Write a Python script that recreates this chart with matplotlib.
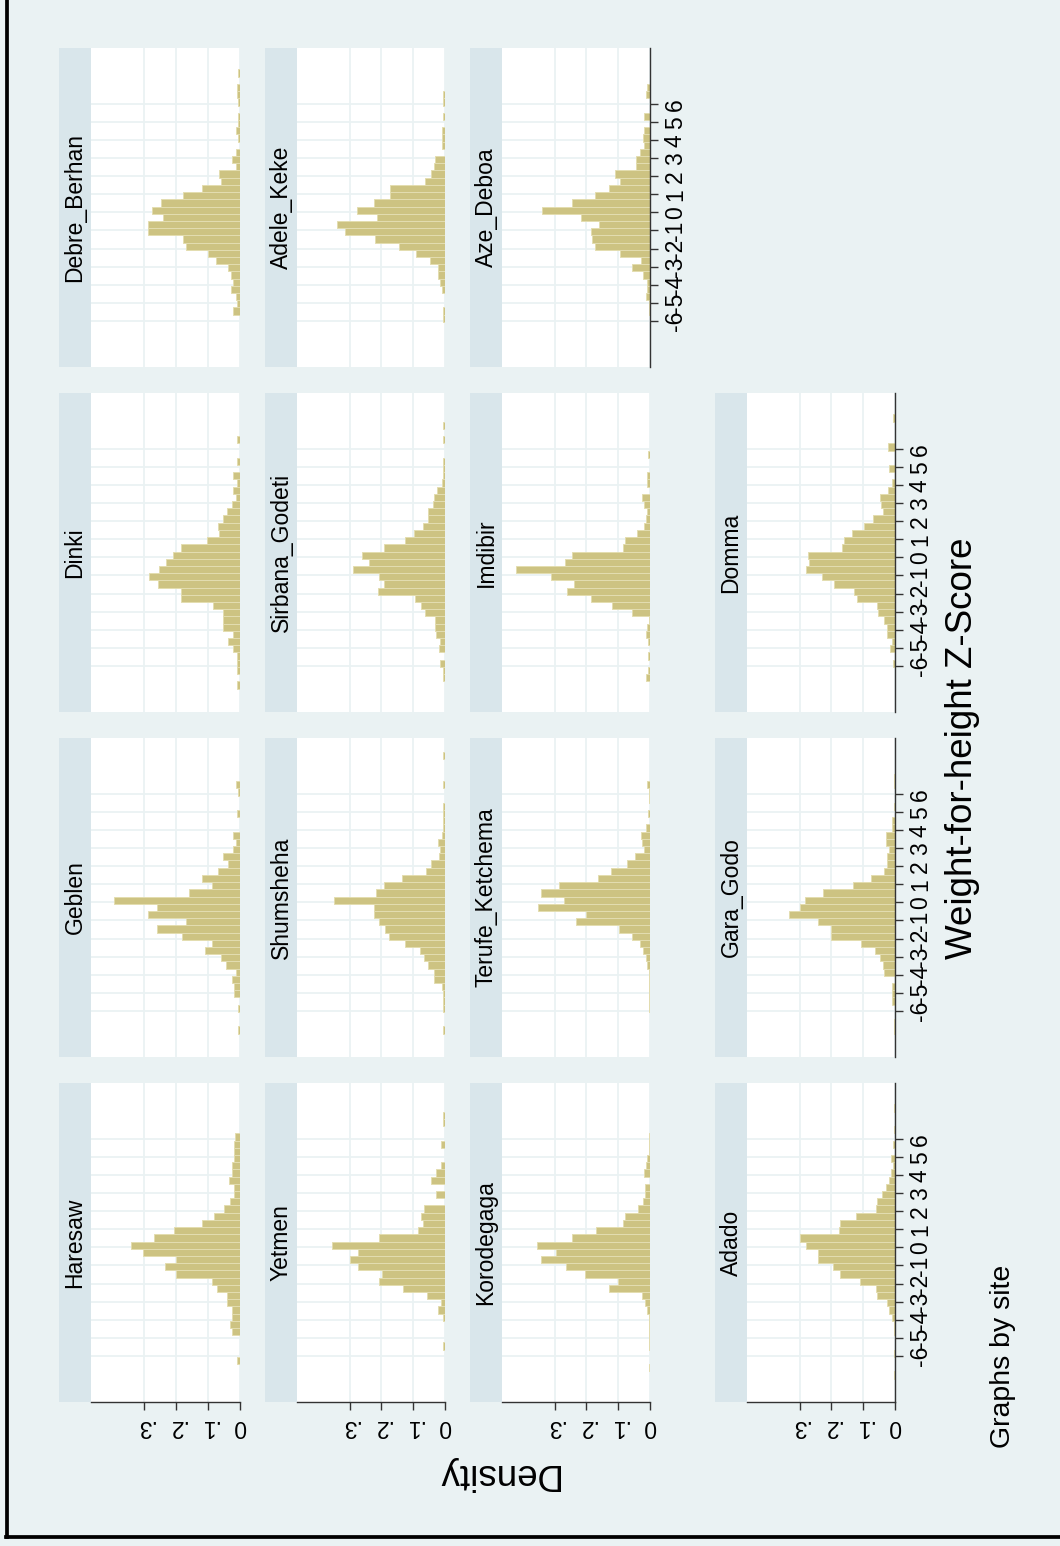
import matplotlib
matplotlib.use("Agg")
import matplotlib.pyplot as plt
from matplotlib.lines import Line2D

plt.rcParams['font.family'] = ['Liberation Sans', 'DejaVu Sans']

# ---------------- data ----------------
sites = ["Haresaw", "Geblen", "Dinki", "Debre_Berhan",
         "Yetmen", "Shumsheha", "Sirbana_Godeti", "Adele_Keke",
         "Korodegaga", "Terufe_Ketchema", "Imdibir", "Aze_Deboa",
         "Adado", "Gara_Godo", "Domma"]

# histogram bin centres (weight-for-height z-score), bin width 0.4
whz_bins = [-7.07, -6.67, -6.27, -5.87, -5.47, -5.07, -4.67, -4.27, -3.87, -3.47,
            -3.07, -2.67, -2.27, -1.87, -1.47, -1.07, -0.67, -0.27, 0.13, 0.53,
            0.93, 1.33, 1.73, 2.13, 2.53, 2.93, 3.33, 3.73, 4.13, 4.53,
            4.93, 5.33, 5.73, 6.13, 6.53, 6.93, 7.33, 7.73, 8.13]
bin_width = 0.4

haresaw = [0, 0, 0.008, 0, 0, 0, 0.024, 0.031, 0.024, 0.024, 0.040, 0.040, 0.073, 0.088, 0.200, 0.234, 0.200, 0.304,
           0.342, 0.269, 0.206, 0.120, 0.082, 0.050, 0.031, 0.018, 0.018, 0.035, 0.024, 0.024, 0.018, 0.018, 0.018, 0.015, 0, 0, 0, 0, 0]
geblen = [0.007, 0, 0, 0.007, 0, 0.019, 0.019, 0.024, 0.014, 0.044, 0.060, 0.109, 0.089, 0.180, 0.260, 0.169, 0.286, 0.260,
          0.394, 0.158, 0.089, 0.120, 0.070, 0.039, 0.054, 0.023, 0.014, 0.023, 0, 0, 0.008, 0, 0, 0.007, 0.014, 0, 0, 0, 0]
dinki = [0.008, 0, 0.008, 0.008, 0.008, 0.023, 0.036, 0.021, 0.054, 0.054, 0.054, 0.083, 0.184, 0.184, 0.255, 0.283, 0.252, 0.231,
         0.208, 0.184, 0.102, 0.067, 0.069, 0.054, 0.042, 0.026, 0.014, 0.021, 0.010, 0.021, 0, 0.008, 0, 0, 0.008, 0, 0, 0, 0]
debre_berhan = [0, 0, 0, 0, 0.021, 0.010, 0.014, 0.029, 0.023, 0.029, 0.036, 0.076, 0.101, 0.169, 0.179, 0.289, 0.289, 0.240,
                0.276, 0.247, 0.179, 0.120, 0.059, 0.066, 0.014, 0.026, 0.014, 0, 0.005, 0.014, 0.005, 0.005, 0, 0.005, 0.010, 0.010, 0, 0.005, 0]
yetmen = [0, 0, 0, 0, 0.005, 0, 0, 0, 0.005, 0.023, 0.014, 0.057, 0.133, 0.208, 0.199, 0.274, 0.299, 0.274,
          0.357, 0.208, 0.086, 0.068, 0.074, 0.066, 0, 0.027, 0, 0.044, 0.027, 0.014, 0, 0, 0.014, 0, 0, 0.005, 0.005, 0, 0]
shumsheha = [0.005, 0, 0, 0.005, 0.005, 0.005, 0.010, 0.034, 0.036, 0.052, 0.065, 0.078, 0.125, 0.177, 0.190, 0.208, 0.224, 0.222,
             0.349, 0.216, 0.193, 0.135, 0.059, 0.045, 0.018, 0.016, 0.021, 0.010, 0.007, 0.007, 0.005, 0.005, 0, 0, 0.005, 0, 0, 0, 0.005]
sirbana_godeti = [0, 0.005, 0.005, 0.016, 0, 0.018, 0.016, 0.028, 0.033, 0.031, 0.063, 0.076, 0.094, 0.210, 0.193, 0.208, 0.290, 0.238,
                  0.260, 0.193, 0.127, 0.099, 0.070, 0.055, 0.055, 0.038, 0.036, 0.024, 0.010, 0.007, 0.007, 0.007, 0, 0, 0.005, 0, 0.005, 0, 0]
adele_keke = [0, 0, 0, 0.007, 0.007, 0, 0, 0.010, 0.016, 0.021, 0.021, 0.047, 0.090, 0.146, 0.219, 0.316, 0.340, 0.214,
              0.276, 0.222, 0.172, 0.172, 0.063, 0.045, 0.035, 0.033, 0, 0.010, 0.010, 0.010, 0, 0.005, 0, 0.007, 0.007, 0, 0, 0, 0]
korodegaga = [0, 0.003, 0, 0, 0.002, 0.002, 0.003, 0.003, 0.003, 0.010, 0.017, 0.024, 0.130, 0.100, 0.204, 0.263, 0.342, 0.296,
              0.357, 0.245, 0.169, 0.086, 0.080, 0.038, 0.021, 0.015, 0.017, 0, 0.019, 0.012, 0.010, 0.003, 0.003, 0.003, 0, 0, 0, 0, 0]
terufe_ketchema = [0, 0, 0, 0.003, 0.003, 0.003, 0.003, 0.003, 0.003, 0.008, 0.014, 0.023, 0.031, 0.057, 0.096, 0.232, 0.200, 0.352,
                   0.271, 0.344, 0.286, 0.164, 0.123, 0.073, 0.047, 0.019, 0.026, 0.029, 0.014, 0, 0.007, 0, 0.003, 0.003, 0.010, 0, 0, 0, 0]
imdibir = [0, 0.014, 0.005, 0, 0.005, 0, 0.005, 0.014, 0.010, 0.004, 0.057, 0.120, 0.185, 0.260, 0.238, 0.310, 0.420, 0.266,
           0.245, 0.085, 0.080, 0.042, 0.019, 0.014, 0.010, 0.019, 0.026, 0, 0.010, 0.010, 0, 0, 0.005, 0, 0, 0, 0, 0, 0]
aze_deboa = [0, 0, 0, 0, 0.003, 0.003, 0.014, 0.008, 0.008, 0.023, 0.057, 0.029, 0.094, 0.174, 0.182, 0.185, 0.161, 0.216,
             0.341, 0.245, 0.172, 0.130, 0.094, 0.109, 0.044, 0.044, 0.031, 0.018, 0.023, 0.018, 0, 0.019, 0, 0, 0.014, 0.008, 0, 0, 0]
adado = [0.003, 0, 0, 0.003, 0, 0, 0.003, 0.003, 0.010, 0.018, 0.026, 0.057, 0.060, 0.109, 0.172, 0.195, 0.243, 0.243,
         0.281, 0.300, 0.175, 0.173, 0.123, 0.059, 0.057, 0.040, 0.028, 0.019, 0.014, 0.007, 0.014, 0, 0.007, 0, 0.003, 0, 0, 0.003, 0]
gara_godo = [0.003, 0.003, 0, 0, 0.010, 0.010, 0.010, 0, 0.036, 0.039, 0.047, 0.063, 0.106, 0.201, 0.201, 0.242, 0.333, 0.299,
             0.283, 0.227, 0.133, 0.076, 0.036, 0.026, 0.026, 0.018, 0.028, 0.028, 0.008, 0.008, 0, 0.003, 0, 0, 0.003, 0.003, 0, 0, 0]
domma = [0, 0, 0, 0.005, 0, 0.016, 0.010, 0.026, 0.026, 0.036, 0.052, 0.057, 0.120, 0.130, 0.193, 0.229, 0.279, 0.269,
         0.274, 0.167, 0.161, 0.135, 0.096, 0.070, 0.039, 0.044, 0.047, 0.023, 0.010, 0, 0.018, 0, 0, 0.023, 0, 0, 0, 0.005, 0]

densities = [haresaw, geblen, dinki, debre_berhan,
             yetmen, shumsheha, sirbana_godeti, adele_keke,
             korodegaga, terufe_ketchema, imdibir, aze_deboa,
             adado, gara_godo, domma]

whz_ticks = [-6, -5, -4, -3, -2, -1, 0, 1, 2, 3, 4, 5, 6]
whz_ticklabels = ["-6", "-5", "-4", "-3", "-2", "-1", "0", "1", "2", "3", "4", "5", "6"]
dens_ticks = [0, 0.1, 0.2, 0.3]
dens_ticklabels = ["0", ".1", ".2", ".3"]

# ---------------- styling / layout ----------------
W, H = 1060, 1546
BG = '#EAF2F3'
STRIP = '#D9E6EB'
GRID = '#EAF2F3'
BAR = '#CDC382'
BAR_EDGE = '#E3DDB0'
AXC = '#333333'

fig = plt.figure(figsize=(W / 100, H / 100), dpi=100)
fig.patch.set_facecolor(BG)


def rect(x0, y0, x1, y1):
    return [x0 / W, 1 - y1 / H, (x1 - x0) / W, (y1 - y0) / H]


col_x = [(91, 240), (297, 445), (502, 650), (747, 895)]       # image columns
row_y = [(1083, 1402), (738, 1057), (393, 712), (48, 367)]     # image rows (bottom -> top)
STRIP_W = 32

for i, (name, dens) in enumerate(zip(sites, densities)):
    c = i // 4
    r = i % 4
    x0, x1 = col_x[c]
    y0, y1 = row_y[r]

    ax = fig.add_axes(rect(x0, y0, x1, y1))
    ax.set_facecolor('white')
    ax.barh(whz_bins, dens, height=bin_width, color=BAR, edgecolor=BAR_EDGE,
            linewidth=0.7, zorder=2)
    ax.set_xlim(0.4656, 0)
    ax.set_ylim(-8.57, 9.12)
    ax.set_yticks(whz_ticks)
    ax.set_xticks(dens_ticks)
    ax.grid(True, color=GRID, linewidth=1.3, zorder=0)
    ax.set_axisbelow(True)
    for s in ax.spines.values():
        s.set_visible(False)

    show_dens = (r == 0)
    show_whz = (c == 3) or (c == 2 and r == 3)

    if show_dens:
        ax.spines['bottom'].set_visible(True)
        ax.spines['bottom'].set_color(AXC)
        ax.spines['bottom'].set_linewidth(1.0)
        ax.set_xticklabels(dens_ticklabels, rotation=180, fontsize=16.5)
        ax.tick_params(axis='x', length=6, width=1.0, color=AXC, pad=3)
    else:
        ax.tick_params(axis='x', length=0, labelbottom=False)

    if show_whz:
        ax.spines['right'].set_visible(True)
        ax.spines['right'].set_color(AXC)
        ax.spines['right'].set_linewidth(1.0)
        ax.yaxis.set_ticks_position('right')
        ax.set_yticklabels(whz_ticklabels, fontsize=16.5)
        ax.tick_params(axis='y', which='both', left=False, right=True, labelleft=False,
                       labelright=True, length=6, width=1.0, color=AXC, pad=4,
                       labelrotation=90)
        for lab in ax.get_yticklabels():
            lab.set_va('center')
            lab.set_ha('left')
    else:
        ax.tick_params(axis='y', length=0, labelleft=False, labelright=False)

    sax = fig.add_axes(rect(x0 - STRIP_W, y0, x0, y1))
    sax.set_facecolor(STRIP)
    sax.set_xticks([])
    sax.set_yticks([])
    for s in sax.spines.values():
        s.set_visible(False)
    sax.text(0.5, 0.5, name, rotation=90, ha='center', va='center',
             fontsize=16.5, color='black', transform=sax.transAxes)

# axis titles and note
fig.text(497 / W, 1 - 1474 / H, "Density", rotation=180, ha='center', va='center',
         fontsize=26.5, color='black')
fig.text(962 / W, 1 - 748 / H, "Weight-for-height Z-Score", rotation=90,
         ha='center', va='center', fontsize=26.5, color='black')
fig.text(1003 / W, 1 - 1448 / H, "Graphs by site", rotation=90,
         ha='center', va='bottom', fontsize=20.5, color='black')

# outer black frame (left and bottom edges)
fig.add_artist(Line2D([7 / W, 7 / W], [1 - 1537 / H, 1.0], color='black',
                      linewidth=2.7, transform=fig.transFigure))
fig.add_artist(Line2D([5.5 / W, 1.0], [1 - 1537 / H, 1 - 1537 / H], color='black',
                      linewidth=2.7, transform=fig.transFigure))

fig.savefig("out.png", dpi=100, facecolor=fig.get_facecolor())
